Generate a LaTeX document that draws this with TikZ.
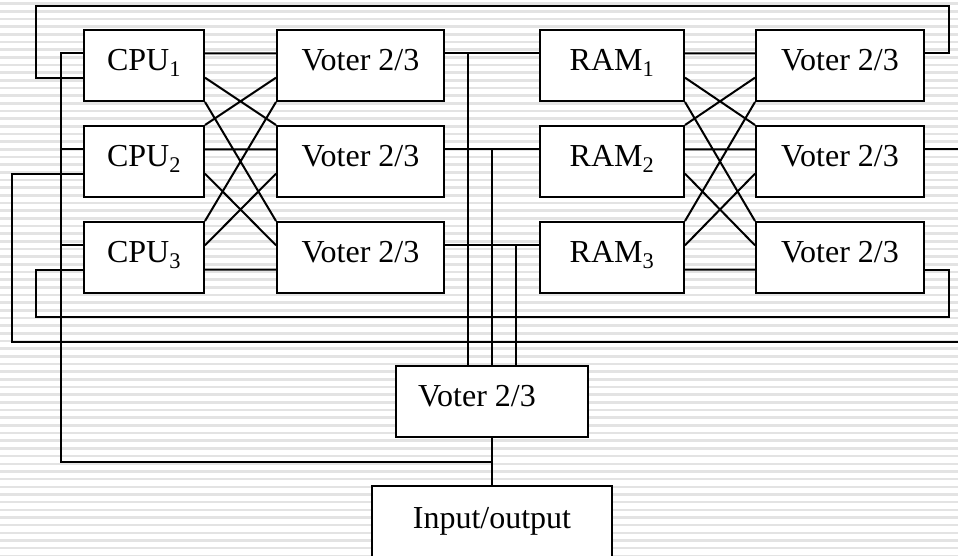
\documentclass[tikz,border=0pt]{standalone}
\usepackage{fontspec}
\setmainfont{Liberation Serif}
\usetikzlibrary{calc}

\begin{document}
\begin{tikzpicture}[x=1pt, y=-1pt, line width=2pt,
  unit/.style={draw, fill=white, inner sep=0pt, minimum height=71pt,
    text height=26pt, text depth=16pt, font=\fontsize{32}{36}\selectfont},
  stripe/.style={line width=2.6pt, black!11}]
  % fondo rayado
  \useasboundingbox (0,0) rectangle (958,556);
  \fill[white] (0,0) rectangle (958,556);
  \foreach \k in {0,...,72}
    \draw[stripe] (0,{3.6+7.67*\k}) -- (958,{3.6+7.67*\k});
  % CPUs, votadores, RAMs y sus puertos
  \foreach \i/\y in {1/65.5, 2/161.5, 3/257.5} {
    \node[unit, minimum width=120pt] (cpu\i) at (144,\y) {CPU\textsubscript{\i}};
    \node[unit, minimum width=167pt] (vl\i) at (360.5,\y) {Voter 2/3};
    \node[unit, minimum width=144pt] (ram\i) at (612,\y) {RAM\textsubscript{\i}};
    \node[unit, minimum width=168pt] (vr\i) at (840,\y) {Voter 2/3};
  }
  \foreach \n in {cpu1,cpu2,cpu3,vl1,vl2,vl3,ram1,ram2,ram3,vr1,vr2,vr3} {
    \coordinate (\n-l1) at ($(\n.north west)!1/3!(\n.south west)$);
    \coordinate (\n-l2) at ($(\n.north west)!2/3!(\n.south west)$);
    \coordinate (\n-r1) at ($(\n.north east)!1/3!(\n.south east)$);
    \coordinate (\n-r2) at ($(\n.north east)!2/3!(\n.south east)$);
  }
  % votador central y entrada/salida
  \node[unit, minimum width=192pt] (mv) at (492,401.5) {Voter 2/3\kern30pt};
  \node[unit, minimum width=240pt, minimum height=74pt] (io) at (492,523) {Input/output};
  % malla cruzada
  \foreach \a/\b in {cpu/vl, ram/vr} {
    \draw (\a1-r1) -- (\b1-l1)  (\a1-r2) -- (\b2.north west)  (\a1.south east) -- (\b3.north west)
          (\a2.north east) -- (\b1-l2)  (\a2-r1) -- (\b2-l1)  (\a2-r2) -- (\b3-l1)
          (\a3.north east) -- (\b1.south west)  (\a3-r1) -- (\b2-l2)  (\a3-r2) -- (\b3-l2);
  }
  % realimentacion
  \draw (vr1-r1) -- ++(24,0) |- (36,6) |- (cpu1-l2);
  \draw (vr3-r2) -- ++(24,0) |- (36,317) |- (cpu3-l2);
  \draw (cpu2-l2) -| (12,342) -- (960,342);
  \draw (vr2-r1) -- ++(40,0);
  % bus de entrada
  \coordinate (bus) at (61,462);
  \draw (cpu1-l1) -| (bus) -| (io.north);
  \draw (cpu2-l1) -- (cpu2-l1 -| bus);
  \draw (cpu3-l1) -- (cpu3-l1 -| bus);
  \draw (mv.south) -- (io.north);
  % salidas hacia las RAM y el votador central
  \foreach \i/\dx in {1/-24, 2/0, 3/24} {
    \draw (vl\i-r1) -- (ram\i-l1);
    \coordinate (mv-t\i) at ([xshift=\dx pt]mv.north);
    \draw (mv-t\i) -- (mv-t\i |- vl\i-r1);
  }
\end{tikzpicture}
\end{document}
